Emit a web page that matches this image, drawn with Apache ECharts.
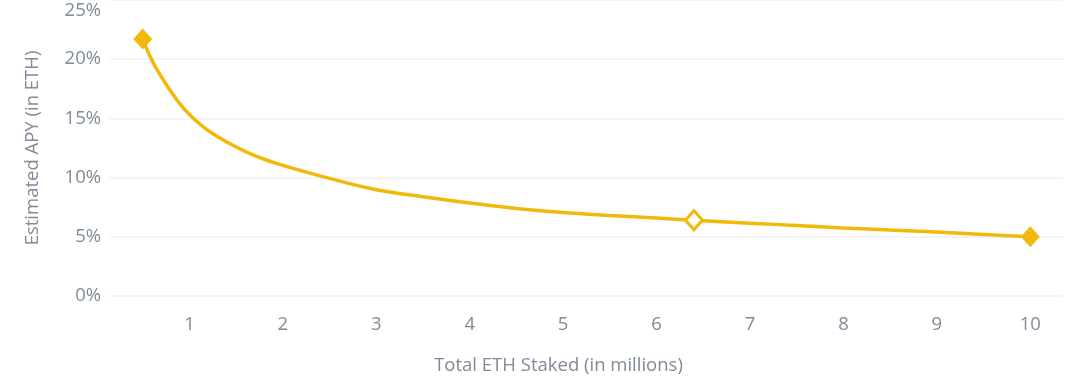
<!DOCTYPE html>
<html>
<head>
<meta charset="utf-8">
<script src="https://cdn.jsdelivr.net/npm/echarts@6/dist/echarts.min.js"></script>
<style>html,body{margin:0;padding:0;background:#fff;}#c{width:1080px;height:385px;}</style>
</head>
<body>
<div id="c"></div>
<script>
// Total ETH staked (millions) vs estimated APY (%)
const stakedX = [0.5, 0.6, 0.7, 0.8, 0.9, 1.0, 1.1, 1.2, 1.4, 1.6, 1.8, 2.0, 2.5, 3.0, 3.5, 4.0, 4.5, 5.0, 5.5, 6.0, 6.4, 7.0, 7.5, 8.0, 8.5, 9.0, 9.5, 10];
const apyY    = [21.7, 19.9, 18.5, 17.3, 16.2, 15.33, 14.6, 13.98, 13.0, 12.2, 11.55, 11.03, 9.93, 8.98, 8.38, 7.85, 7.4, 7.05, 6.8, 6.58, 6.4, 6.15, 5.95, 5.75, 5.57, 5.4, 5.2, 5.0];
const markerFilled = [[0.5, 21.7], [10, 5.0]];
const markerHollow = [[6.4, 6.4]];
const xTickLabels = [1, 2, 3, 4, 5, 6, 7, 8, 9, 10];

const gold = '#F0B90B';
const textGray = '#818A98';
const font = "'Open Sans', sans-serif";
const fs = 18.5;

const chart = echarts.init(document.getElementById('c'), null, {renderer: 'canvas'});
chart.setOption({
  animation: false,
  backgroundColor: '#ffffff',
  grid: {left: 110, right: 17, top: -1.5, bottom: 89, containLabel: false},
  xAxis: {
    type: 'value', min: 0.15, max: 10.35,
    axisLine: {show: false}, axisTick: {show: false}, splitLine: {show: false},
    axisLabel: {customValues: xTickLabels, color: textGray, fontFamily: font, fontSize: fs, margin: 19},
    name: 'Total ETH Staked (in millions)', nameLocation: 'middle', nameGap: 60,
    nameTextStyle: {color: textGray, fontFamily: font, fontSize: fs, padding: [0, 56, 0, 0]}
  },
  yAxis: {
    type: 'value', min: 0, max: 25, interval: 5,
    axisLine: {show: false}, axisTick: {show: false},
    splitLine: {lineStyle: {color: '#EEF0F3', width: 1.5}},
    axisLabel: {
      color: textGray, fontFamily: font, fontSize: fs, margin: 9,
      formatter: v => v === 25 ? '{t|' + v + '%}' : v + '%',
      rich: {t: {color: textGray, fontFamily: font, fontSize: fs, padding: [22, 0, 0, 0]}}
    },
    name: 'Estimated APY (in ETH)', nameLocation: 'middle', nameGap: 68,
    nameTextStyle: {color: textGray, fontFamily: font, fontSize: fs}
  },
  series: [
    {
      type: 'line', smooth: 0.4, showSymbol: false,
      data: stakedX.map((x, i) => [x, apyY[i]]),
      lineStyle: {color: gold, width: 3.5}, z: 2
    },
    {
      type: 'scatter', symbol: 'diamond', symbolSize: [19, 21],
      data: markerFilled,
      itemStyle: {color: gold, opacity: 1}, z: 3
    },
    {
      type: 'scatter', symbol: 'diamond', symbolSize: [17, 19],
      data: markerHollow,
      itemStyle: {color: '#ffffff', borderColor: gold, borderWidth: 3, opacity: 1}, z: 3
    }
  ]
});
</script>
</body>
</html>
